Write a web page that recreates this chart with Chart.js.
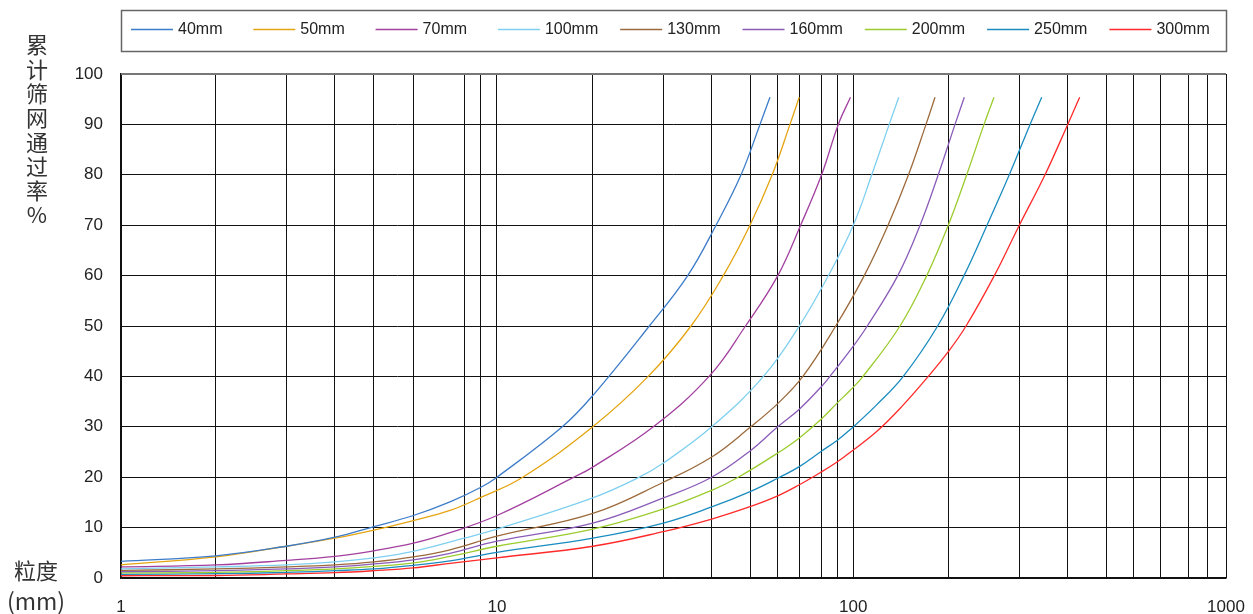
<!DOCTYPE html>
<html>
<head>
<meta charset="utf-8">
<script src="https://cdn.jsdelivr.net/npm/chart.js@4.4.1/dist/chart.umd.min.js"></script>
<style>
  html, body { margin: 0; padding: 0; background: #fff; }
</style>
</head>
<body>
<canvas id="gradingChart" width="1253" height="614"></canvas>
<script>
// sieve sizes (legend) and colours
const sizes = ['40mm', '50mm', '70mm', '100mm', '130mm', '160mm', '200mm', '250mm', '300mm'];
const colors = ['#3d7cc9', '#e5a411', '#a3409f', '#7fd0f0', '#9c6a3c', '#8a5cb8', '#9bcc2e', '#1a8cbf', '#ff2a2a'];

// grading curves: [particle size mm, passing %]
const s40 = [[1,3.3],[1.81,4.4],[2.81,6.3],[3.81,8.1],[4.86,10.2],[6.22,12.4],[7.82,15.1],[9.49,18.0],[10.49,20],[15.78,30],[19.09,36.2],[27.19,50],[34.56,60],[41.25,70],[48.24,80],[54.3,90],[57.8,95.4]];
const s50 = [[1,2.6],[1.81,4.2],[2.81,6.3],[3.81,7.9],[4.86,9.5],[6.22,11.4],[7.82,13.4],[9.49,16.0],[12.32,20],[19.09,30],[27.0,40],[35.28,50],[43.17,60],[51.0,70],[58.6,80],[65.5,90],[69.4,95.4]];
const s70 = [[1,2.2],[1.81,2.6],[2.81,3.5],[3.81,4.3],[4.86,5.4],[6.22,6.9],[7.82,9.0],[10.49,12.4],[16.98,20],[19.09,22.0],[27.88,30],[39.5,40],[49.6,50],[60.7,60],[70.0,70],[79.8,80],[88.6,90],[95.6,95.4]];
const s100 = [[1,1.8],[1.81,2.2],[2.81,2.6],[3.81,3.2],[4.86,4.0],[6.22,5.3],[8.55,7.9],[10.49,9.7],[19.09,15.9],[25.54,20],[29.68,22.8],[40.15,30],[55.5,40],[69.44,50],[83.3,60],[97.31,70],[109.2,80],[121.8,90],[129.3,95.4]];
const s130 = [[1,1.5],[1.81,1.8],[2.81,2.2],[3.81,2.6],[4.86,3.2],[6.22,4.2],[7.82,5.6],[10.49,8.3],[19.09,12.8],[29.68,19.0],[40.15,24.0],[51.24,30],[60.66,34.6],[71.0,40],[87.17,50],[104.2,60],[120.9,70],[137.4,80],[153.3,90],[162.2,95.4]];
const s160 = [[1,1.25],[1.81,1.45],[2.81,1.8],[3.81,2.2],[4.86,2.8],[6.22,3.6],[7.82,4.9],[10.49,7.3],[19.09,10.9],[29.68,15.9],[40.15,20],[51.24,25.3],[60.66,30],[69.44,33.5],[79.54,37.9],[84.1,40],[97.31,46.0],[106.2,50],[128.5,60],[147.7,70],[165.5,80],[183.8,90],[194.8,95.4]];
const s200 = [[1,1.0],[1.81,1.1],[2.81,1.45],[3.81,1.8],[4.86,2.3],[6.22,3.0],[7.82,4.3],[10.49,6.3],[19.09,9.7],[29.68,13.7],[40.15,17.4],[47.4,20],[60.66,24.8],[69.44,27.8],[79.54,31.5],[87.9,34.7],[95.3,37.2],[103.4,40],[130.3,50],[154.0,60],[176.2,70],[197.7,80],[220.3,90],[234.5,95.4]];
const s250 = [[1,0.7],[1.81,0.85],[2.81,1.1],[3.81,1.45],[4.86,1.8],[6.22,2.5],[7.82,3.4],[10.49,5.1],[19.09,7.9],[29.68,10.9],[40.15,14.1],[51.24,17.2],[60.66,19.8],[69.44,22.1],[79.54,25.1],[87.9,27.3],[95.3,29.4],[112.4,34.3],[133.0,40],[164.9,50],[194.4,60],[224.5,70],[258.0,80],[293.8,90],[316.0,95.4]];
const s300 = [[1,0.45],[1.81,0.5],[2.81,0.8],[3.81,1.05],[4.86,1.45],[6.22,2.0],[7.82,2.9],[10.49,4.0],[19.09,6.3],[29.68,9.2],[40.15,11.7],[51.24,14.2],[60.66,16.3],[69.44,18.5],[79.54,21.0],[87.9,23.0],[95.3,24.9],[112.4,29.0],[131.7,34.0],[155.5,40],[176.2,44.9],[196.9,50],[235.0,60],[274.7,70],[322.6,80],[371.8,90],[400.6,95.4]];
const curves = [s40, s50, s70, s100, s130, s160, s200, s250, s300];

// vertical grid lines as drawn in the original, and the labels under them
const gridValues = [1, 1.81, 2.81, 3.81, 4.86, 6.22, 8.55, 9.49, 10.49, 19.09, 29.68, 40.15, 51.24, 60.66, 69.44, 79.54, 87.9, 97.31, 176.7, 274.7, 371.8, 474.6, 561.7, 666, 790, 890, 1000];
const xTickLabels = ['1', '', '', '', '', '', '', '', '10', '', '', '', '', '', '', '', '', '100', '', '', '', '', '', '', '', '', '1000'];

const yTitle = '累计筛网通过率%';
const xTitle = ['粒度', '(mm)'];

const datasets = curves.map((pts, i) => ({
  label: sizes[i],
  data: pts.map(p => ({ x: p[0], y: p[1] })),
  borderColor: colors[i],
  backgroundColor: colors[i],
  borderWidth: 1.3,
  pointRadius: 0,
  tension: 0.4,
  fill: false
}));

// legend box, axis titles
const decorations = {
  id: 'decorations',
  afterDraw(chart) {
    const ctx = chart.ctx;
    ctx.save();
    ctx.strokeStyle = '#666';
    ctx.lineWidth = 1.5;
    ctx.strokeRect(121.5, 10.5, 1105, 41);
    ctx.font = '16px "Liberation Sans", Arial, sans-serif';
    ctx.textBaseline = 'middle';
    ctx.textAlign = 'left';
    chart.data.datasets.forEach((ds, i) => {
      const x0 = 131 + i * 122.3;
      ctx.strokeStyle = ds.borderColor;
      ctx.lineWidth = 1.5;
      ctx.beginPath();
      ctx.moveTo(x0, 29.5);
      ctx.lineTo(x0 + 42, 29.5);
      ctx.stroke();
      ctx.fillStyle = '#222';
      ctx.fillText(ds.label, x0 + 47, 29.5);
    });

    ctx.font = '22px "Noto Sans CJK SC", sans-serif';
    ctx.textAlign = 'center';
    ctx.fillStyle = '#333';
    [...yTitle].forEach((ch, i) => ctx.fillText(ch, 37, 45 + i * 24.3));
    ctx.fillText(xTitle[0], 36, 571);
    ctx.font = '23px "Noto Sans CJK SC", sans-serif';
    ctx.fillText(xTitle[1], 36, 601);

    // top edge of the plot frame is grey in the original
    const a = chart.chartArea;
    ctx.strokeStyle = '#777';
    ctx.lineWidth = 2;
    ctx.beginPath();
    ctx.moveTo(a.left, a.top);
    ctx.lineTo(a.right, a.top);
    ctx.stroke();
    ctx.restore();
  }
};

new Chart(document.getElementById('gradingChart'), {
  type: 'line',
  data: { datasets },
  plugins: [decorations],
  options: {
    responsive: false,
    animation: false,
    layout: { padding: { top: 74, right: 27, left: 0, bottom: 0 } },
    plugins: { legend: { display: false }, tooltip: { enabled: false } },
    scales: {
      x: {
        type: 'logarithmic',
        min: 1,
        max: 1000,
        afterBuildTicks: (scale) => { scale.ticks = gridValues.map(v => ({ value: v })); },
        afterFit: (scale) => {
          scale.height = 36;
          scale.paddingLeft = 0;
          scale.paddingRight = 0;
        },
        ticks: {
          autoSkip: false,
          maxRotation: 0,
          minRotation: 0,
          padding: 19,
          color: '#222',
          font: { size: 17, family: '"Liberation Sans", Arial, sans-serif' },
          callback: (v, i) => xTickLabels[i]
        },
        grid: { color: '#111', lineWidth: 1, drawTicks: false },
        border: { color: '#111', width: 1.5 }
      },
      y: {
        min: 0,
        max: 100,
        afterFit: (scale) => { scale.width = 121; },
        ticks: {
          stepSize: 10,
          padding: 18,
          color: '#222',
          font: { size: 17, family: '"Liberation Sans", Arial, sans-serif' }
        },
        grid: { color: '#111', lineWidth: 1, drawTicks: false },
        border: { color: '#111', width: 1.5 }
      }
    }
  }
});
</script>
</body>
</html>
